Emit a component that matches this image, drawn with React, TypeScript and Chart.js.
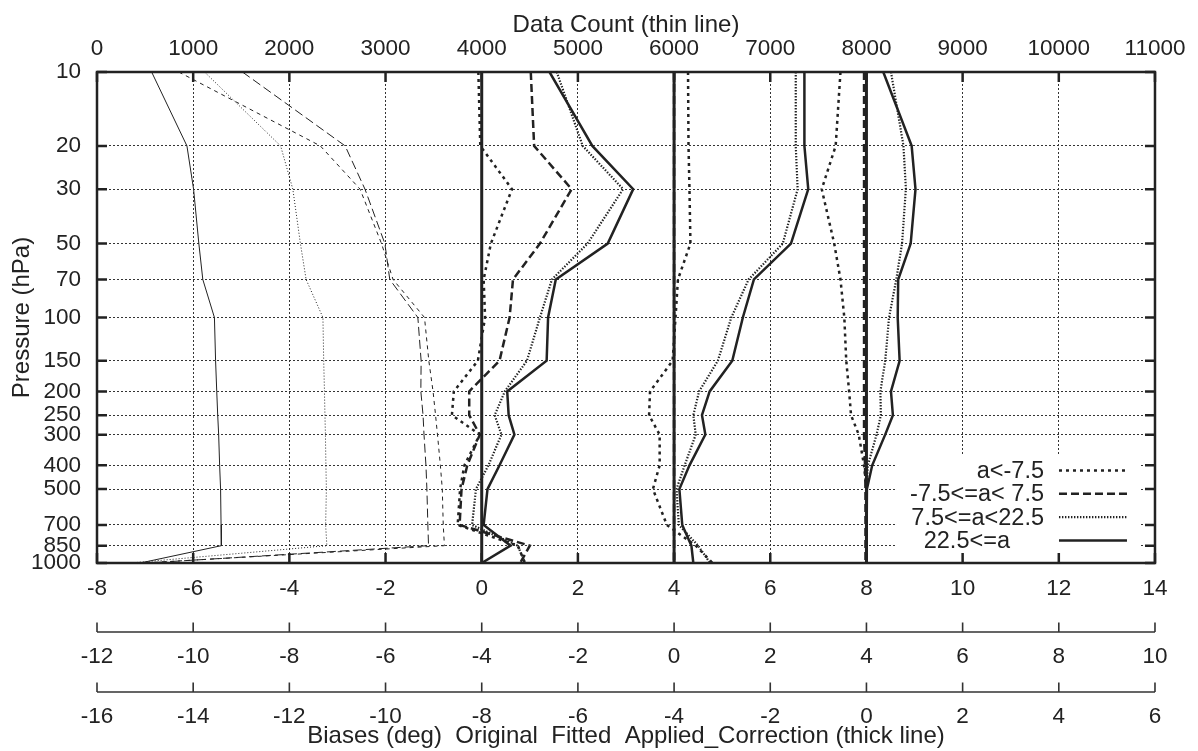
import React, { useEffect, useRef } from "react";
import { Chart, registerables } from "chart.js";

Chart.register(...registerables);

// ---------------- data ----------------
const pressureLevels = [10, 20, 30, 50, 70, 100, 150, 200, 250, 300, 400, 500, 700, 850, 1000];
const pressureTicks = [10, 20, 30, 50, 70, 100, 150, 200, 250, 300, 400, 500, 700, 850, 1000];

const legendLabels = ["a<-7.5", "-7.5<=a< 7.5", "7.5<=a<22.5", "22.5<=a"];

// Data count (thin lines, top axis)
const countAm75 = [850, 2322, 2735, 2958, 3078, 3405, 3450, 3494, 3520, 3540, 3570, 3590, 3600, 3612, 480];
const countAm75to75 = [1512, 2580, 2786, 2993, 3044, 3336, 3370, 3367, 3390, 3400, 3420, 3430, 3440, 3447, 520];
const countA75to225 = [1118, 1909, 2036, 2115, 2174, 2349, 2357, 2365, 2370, 2375, 2380, 2385, 2377, 2390, 350];
const countA225 = [568, 935, 1004, 1059, 1100, 1221, 1233, 1245, 1255, 1265, 1275, 1285, 1290, 1293, 450];

// Original biases (axis -8..14)
const origAm75 = [-0.07, -0.03, 0.63, 0.19, 0.04, 0.07, -0.08, -0.58, -0.62, -0.04, -0.36, -0.45, -0.5, 0.75, 0.9];
const origAm75to75 = [1.02, 1.09, 1.87, 1.21, 0.65, 0.58, 0.37, -0.26, -0.26, -0.04, -0.3, -0.42, -0.46, 1.0, 0.8];
const origA75to225 = [1.56, 2.1, 2.94, 2.2, 1.46, 1.21, 0.94, 0.48, 0.27, 0.41, 0.14, -0.12, -0.2, 0.75, 0.9];
const origA225 = [1.41, 2.3, 3.15, 2.62, 1.54, 1.38, 1.35, 0.53, 0.56, 0.68, 0.37, 0.12, 0.04, 0.6, 0.0];

// Fitted biases (axis -12..10)
const fitAm75 = [0.29, 0.3, 0.32, 0.34, 0.08, 0.03, -0.03, -0.5, -0.52, -0.3, -0.3, -0.44, -0.15, 0.45, 0.8];
const fitAm75to75 = [0.0, 0.0, 0.0, 0.0, 0.0, 0.0, 0.0, 0.0, 0.0, 0.0, 0.0, 0.0, 0.0, 0.0, 0.0];
const fitA75to225 = [2.53, 2.53, 2.57, 2.26, 1.55, 1.19, 0.91, 0.52, 0.4, 0.45, 0.22, 0.05, 0.1, 0.5, 0.75];
const fitA225 = [2.71, 2.71, 2.79, 2.43, 1.66, 1.43, 1.21, 0.74, 0.58, 0.65, 0.32, 0.11, 0.17, 0.36, 0.4];

// Applied correction (axis -16..6)
const corAm75 = [-0.54, -0.64, -0.93, -0.67, -0.54, -0.46, -0.42, -0.36, -0.32, -0.16, -0.05, 0.0, 0.0, 0.0, 0.0];
const corAm75to75 = [-0.05, -0.05, -0.05, -0.05, -0.05, -0.05, -0.05, -0.05, -0.05, -0.05, -0.03, -0.02, -0.02, -0.02, -0.02];
const corA75to225 = [0.51, 0.77, 0.82, 0.74, 0.62, 0.47, 0.39, 0.29, 0.3, 0.21, 0.03, 0.0, 0.0, 0.0, 0.0];
const corA225 = [0.35, 0.94, 1.02, 0.92, 0.66, 0.65, 0.69, 0.51, 0.55, 0.39, 0.12, 0.01, 0.0, 0.0, 0.0];

// zero reference lines
const zeroLineValues = [0, 0];
const zeroLinePressure = [10, 1000];

// ---------------- styles ----------------
const FONT = "'Liberation Sans', Arial, Helvetica, sans-serif";
const INK = "#222";
const TICK_SIZE = 22.5;
const TITLE_SIZE = 24;
const LEGEND_SIZE = 23.5;

const thickStyles = [
  { dash: [3, 4], width: 2.5 },
  { dash: [8, 4], width: 2.5 },
  { dash: [1.4, 1.6], width: 2.2 },
  { dash: [], width: 2.5 },
];
const thinStyles = [
  { dash: [4, 4], width: 1 },
  { dash: [9, 4], width: 1 },
  { dash: [1, 2], width: 1 },
  { dash: [], width: 1 },
];

function series(label: string, values: number[], pressures: number[], axis: string, style: { dash: number[]; width: number }) {
  return {
    label,
    data: values.map((v, i) => ({ x: v, y: pressures[i] })),
    xAxisID: axis,
    yAxisID: "y",
    borderColor: INK,
    backgroundColor: INK,
    borderWidth: style.width,
    borderDash: style.dash,
    borderCapStyle: "butt",
    borderJoinStyle: "miter",
    pointRadius: 0,
    fill: false,
    tension: 0,
  };
}

const frameAndLegend = {
  id: "frameAndLegend",
  afterDraw(chart: any) {
    const { ctx, chartArea, scales } = chart;
    const { left, right, top, bottom } = chartArea;
    ctx.save();

    // legend (key) inside plot, bottom right
    const boxL = right - 260;
    const boxR = right - 14;
    const boxT = bottom - 108;
    ctx.fillStyle = "#fff";
    ctx.fillRect(boxL, boxT, boxR - boxL, bottom - boxT - 1);
    const rowOffsets = [91.5, 68.2, 44.9, 21.6];
    const textRight = [right - 111, right - 111, right - 111, right - 145];
    ctx.font = `${LEGEND_SIZE}px ${FONT}`;
    ctx.fillStyle = INK;
    ctx.textAlign = "right";
    ctx.textBaseline = "middle";
    legendLabels.forEach((lab, i) => {
      const y = bottom - rowOffsets[i];
      ctx.fillText(lab, textRight[i], y);
      ctx.beginPath();
      ctx.strokeStyle = INK;
      ctx.lineWidth = thickStyles[i].width;
      ctx.setLineDash(thickStyles[i].dash);
      ctx.moveTo(right - 96, y - 1);
      ctx.lineTo(right - 28, y - 1);
      ctx.stroke();
    });
    ctx.setLineDash([]);

    // frame
    ctx.strokeStyle = INK;
    ctx.lineWidth = 2.5;
    ctx.strokeRect(left, top, right - left, bottom - top);

    // inward tick marks
    ctx.lineWidth = 2.5;
    ctx.beginPath();
    scales.y.ticks.forEach((t: any) => {
      const py = scales.y.getPixelForValue(t.value);
      ctx.moveTo(left, py);
      ctx.lineTo(left + 10, py);
      ctx.moveTo(right, py);
      ctx.lineTo(right - 10, py);
    });
    scales.xTop.ticks.forEach((t: any) => {
      const px = scales.xTop.getPixelForValue(t.value);
      ctx.moveTo(px, top);
      ctx.lineTo(px, top + 10);
    });
    scales.x.ticks.forEach((t: any) => {
      const px = scales.x.getPixelForValue(t.value);
      ctx.moveTo(px, bottom);
      ctx.lineTo(px, bottom - 10);
    });
    ctx.stroke();

    // secondary bias axes (line with upward ticks)
    ["x2", "x3"].forEach((id) => {
      const s = scales[id];
      const ly = s.top + 19;
      ctx.beginPath();
      ctx.lineWidth = 1.6;
      ctx.strokeStyle = "#333";
      ctx.moveTo(left, ly);
      ctx.lineTo(right, ly);
      s.ticks.forEach((t: any) => {
        const px = s.getPixelForValue(t.value);
        ctx.moveTo(px, ly);
        ctx.lineTo(px, ly - 9.5);
      });
      ctx.stroke();
    });
    ctx.restore();
  },
};

export default function App() {
  const canvasRef = useRef<HTMLCanvasElement | null>(null);

  useEffect(() => {
    if (!canvasRef.current) return;
    Chart.defaults.font.family = FONT;
    Chart.defaults.font.size = TICK_SIZE;
    Chart.defaults.color = INK;

    const datasets: any[] = [
      series("zero0", zeroLineValues, zeroLinePressure, "x", { dash: [], width: 3 }),
      series("zero4", zeroLineValues, zeroLinePressure, "x2", { dash: [], width: 3 }),
      series("zero8", zeroLineValues, zeroLinePressure, "x3", { dash: [], width: 3 }),

      series("count " + legendLabels[0], countAm75, pressureLevels, "xTop", thinStyles[0]),
      series("count " + legendLabels[1], countAm75to75, pressureLevels, "xTop", thinStyles[1]),
      series("count " + legendLabels[2], countA75to225, pressureLevels, "xTop", thinStyles[2]),
      series("count " + legendLabels[3], countA225, pressureLevels, "xTop", thinStyles[3]),

      series("orig " + legendLabels[0], origAm75, pressureLevels, "x", thickStyles[0]),
      series("orig " + legendLabels[1], origAm75to75, pressureLevels, "x", thickStyles[1]),
      series("orig " + legendLabels[2], origA75to225, pressureLevels, "x", thickStyles[2]),
      series("orig " + legendLabels[3], origA225, pressureLevels, "x", thickStyles[3]),

      series("fit " + legendLabels[0], fitAm75, pressureLevels, "x2", thickStyles[0]),
      series("fit " + legendLabels[1], fitAm75to75, pressureLevels, "x2", thickStyles[1]),
      series("fit " + legendLabels[2], fitA75to225, pressureLevels, "x2", thickStyles[2]),
      series("fit " + legendLabels[3], fitA225, pressureLevels, "x2", thickStyles[3]),

      series("corr " + legendLabels[0], corAm75, pressureLevels, "x3", thickStyles[0]),
      series("corr " + legendLabels[1], corAm75to75, pressureLevels, "x3", thickStyles[1]),
      series("corr " + legendLabels[2], corA75to225, pressureLevels, "x3", thickStyles[2]),
      series("corr " + legendLabels[3], corA225, pressureLevels, "x3", thickStyles[3]),
    ];

    const numLabel = (v: any) => String(v);
    const gridDotted = { display: true, color: "#333", lineWidth: 1, drawTicks: false, drawOnChartArea: true };
    const titleFont = { size: TITLE_SIZE };

    const chart = new Chart(canvasRef.current, {
      type: "line",
      data: { datasets },
      plugins: [frameAndLegend],
      options: {
        animation: false,
        responsive: false,
        indexAxis: "y",
        layout: { padding: { left: 0, right: 35, top: 0, bottom: 0 } },
        plugins: { legend: { display: false }, tooltip: { enabled: false } },
        elements: { line: { tension: 0 } },
        scales: {
          y: {
            type: "logarithmic",
            position: "left",
            reverse: true,
            min: 10,
            max: 1000,
            afterBuildTicks: (scale: any) => {
              scale.ticks = pressureTicks.map((v) => ({ value: v }));
            },
            afterFit: (scale: any) => {
              scale.width = 97;
            },
            ticks: { autoSkip: false, padding: 16, callback: numLabel },
            grid: gridDotted,
            border: { display: false, dash: [2, 2] },
            title: { display: true, text: "Pressure (hPa)", padding: { top: 7.5, bottom: 0 }, font: titleFont },
          },
          xTop: {
            type: "linear",
            position: "top",
            min: 0,
            max: 11000,
            afterFit: (scale: any) => {
              scale.height = 72;
            },
            ticks: { stepSize: 1000, autoSkip: false, maxRotation: 0, padding: 10.2, callback: numLabel },
            grid: { display: false, drawTicks: false },
            border: { display: false },
            title: { display: true, text: "Data Count (thin line)", padding: { top: 10.6, bottom: 0 }, font: titleFont },
          },
          x: {
            type: "linear",
            position: "bottom",
            weight: 0,
            min: -8,
            max: 14,
            afterFit: (scale: any) => {
              scale.height = 50;
            },
            ticks: { stepSize: 2, autoSkip: false, maxRotation: 0, padding: 12.5, callback: numLabel },
            grid: gridDotted,
            border: { display: false, dash: [2, 2] },
          },
          x2: {
            type: "linear",
            position: "bottom",
            weight: 1,
            min: -12,
            max: 10,
            afterFit: (scale: any) => {
              scale.height = 60;
            },
            ticks: { stepSize: 2, autoSkip: false, maxRotation: 0, padding: 30.5, callback: numLabel },
            grid: { display: false, drawTicks: false },
            border: { display: false },
          },
          x3: {
            type: "linear",
            position: "bottom",
            weight: 2,
            min: -16,
            max: 6,
            afterFit: (scale: any) => {
              scale.height = 78;
            },
            ticks: { stepSize: 2, autoSkip: false, maxRotation: 0, padding: 30.5, callback: numLabel },
            grid: { display: false, drawTicks: false },
            border: { display: false },
            title: {
              display: true,
              text: "Biases (deg)  Original  Fitted  Applied_Correction (thick line)",
              padding: { top: 0, bottom: 0 },
              font: titleFont,
            },
          },
        },
      } as any,
    });
    return () => chart.destroy();
  }, []);

  return (
    <div style={{ position: "fixed", left: 0, top: 0, width: 1198, height: 751, background: "#fff" }}>
      <canvas ref={canvasRef} width={1198} height={751} style={{ display: "block", width: 1198, height: 751 }} />
    </div>
  );
}
